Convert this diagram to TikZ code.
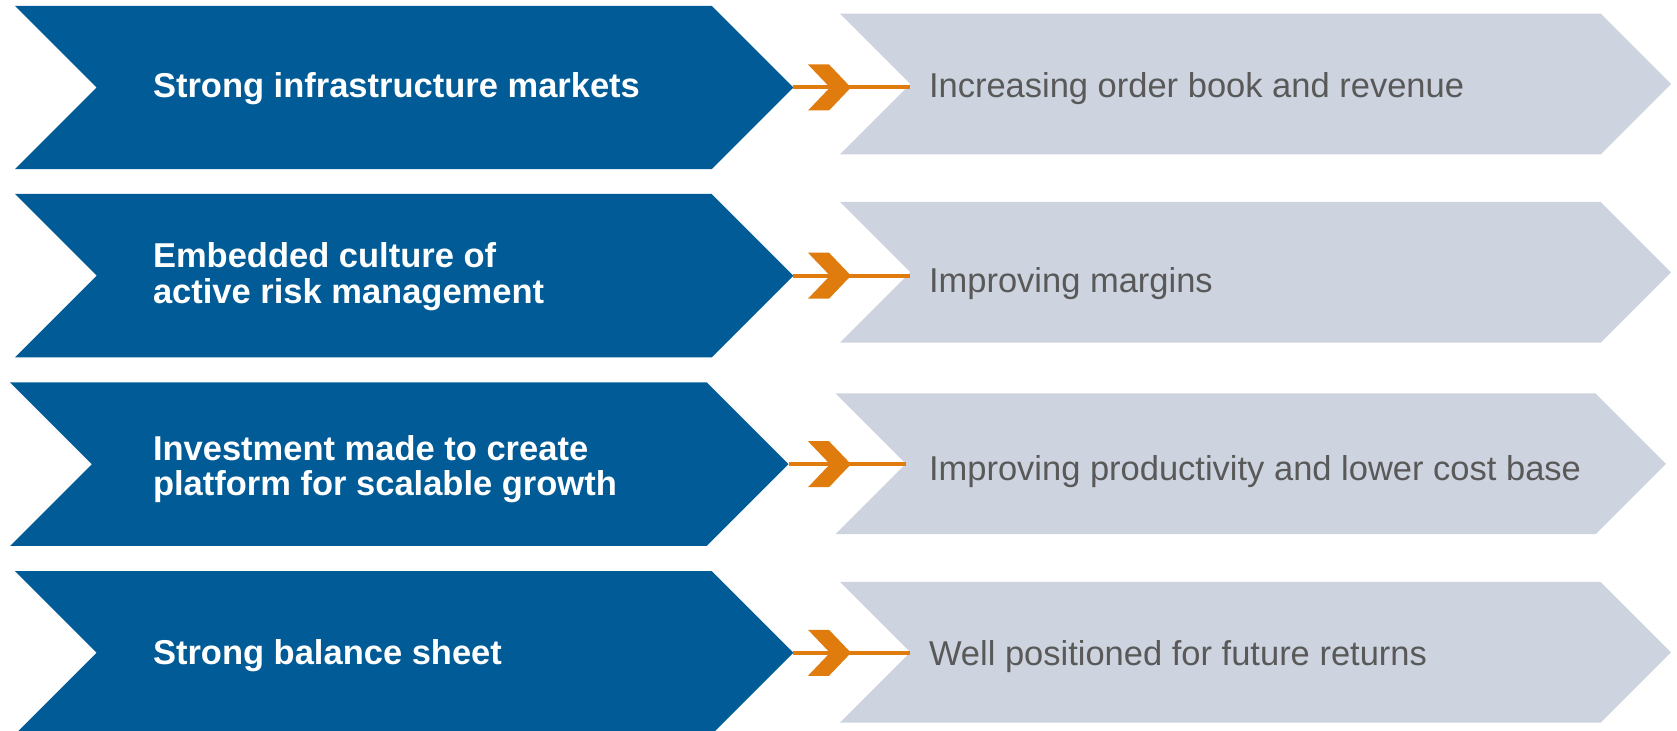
\documentclass[tikz,border=0pt]{standalone}
\usepackage{fontspec}
\setmainfont{Liberation Sans}
\usetikzlibrary{positioning}
\definecolor{causeblue}{HTML}{005B96}
\definecolor{effectgray}{HTML}{CDD3DF}
\definecolor{linkorange}{HTML}{E07B0E}
\definecolor{effecttext}{HTML}{595959}

\begin{document}
\begin{tikzpicture}
[x=0.5pt,y=-0.5pt,
 cause/.style={fill=causeblue},
 effect/.style={fill=effectgray},
 lead/.style={inner sep=0mm,outer sep=0mm,text=white,align=left,font=\fontsize{17.25}{17.85}\selectfont\bfseries},
 result/.style={anchor=base west,inner sep=0mm,outer sep=0mm,text=effecttext,font=\fontsize{17.25}{21}\selectfont},
 link/.style={draw=linkorange,line width=2pt},
 chevmark/.style={fill=linkorange}]

\useasboundingbox (0,0) rectangle (1677,731);

% row 1
\fill[cause]  (15,5.8) -- (711.6,5.8) -- (793.3,87.5) coordinate (B1tip) -- (711.6,169.2) -- (15,169.2) -- (96.7,87.5) -- cycle;
\fill[effect] (840,13.6) -- (1600.6,13.6) -- (1671,84) -- (1600.6,154.4) -- (840,154.4) -- (910.4,84) coordinate (G1in) -- cycle;
\node[lead,anchor=base west] (L1) at (153,97.7) {Strong infrastructure markets};
\node[result] (R1) at (929,97.3) {Increasing order book and revenue};
\path[link] (B1tip) edge (B1tip -| G1in);
\coordinate (M1) at (808,87.5);
\fill[chevmark] ([yshift=11.5pt]M1) -- ++(21,0) -- ++(22,23) -- ++(-22,23) -- ++(-21,0) -- ++(22,-23) -- cycle;

% row 2
\fill[cause]  (15,194) -- (711.6,194) -- (793.3,275.7) coordinate (B2tip) -- (711.6,357.4) -- (15,357.4) -- (96.7,275.7) -- cycle;
\fill[effect] (840,201.9) -- (1600.6,201.9) -- (1671,272.3) -- (1600.6,342.7) -- (840,342.7) -- (910.4,272.3) coordinate (G2in) -- cycle;
\node[lead,anchor=west] (L2) at (153,276.6) {Embedded culture of\\active risk management};
\node[result] (R2) at (929,292.3) {Improving margins};
\path[link] (B2tip) edge (B2tip -| G2in);
\coordinate (M2) at (808,275.7);
\fill[chevmark] ([yshift=11.5pt]M2) -- ++(21,0) -- ++(22,23) -- ++(-22,23) -- ++(-21,0) -- ++(22,-23) -- cycle;

% row 3
\fill[cause]  (10.2,382.5) -- (706.8,382.5) -- (788.5,464.2) coordinate (B3tip) -- (706.8,545.9) -- (10.2,545.9) -- (91.9,464.2) -- cycle;
\fill[effect] (835.5,393.4) -- (1595.6,393.4) -- (1666,463.8) -- (1595.6,534.2) -- (835.5,534.2) -- (905.9,463.8) coordinate (G3in) -- cycle;
\node[lead,anchor=west] (L3) at (153,469.2) {Investment made to create\\platform for scalable growth};
\node[result] (R3) at (929,480.5) {Improving productivity and lower cost base};
\path[link] (B3tip) edge (B3tip -| G3in);
\coordinate (M3) at (808,464.2);
\fill[chevmark] ([yshift=11.5pt]M3) -- ++(21,0) -- ++(22,23) -- ++(-22,23) -- ++(-21,0) -- ++(22,-23) -- cycle;

% row 4
\fill[cause]  (15,571.1) -- (711.6,571.1) -- (793.3,652.8) coordinate (B4tip) -- (711.6,734.5) -- (15,734.5) -- (96.7,652.8) -- cycle;
\fill[effect] (840,581.9) -- (1600.6,581.9) -- (1671,652.3) -- (1600.6,722.7) -- (840,722.7) -- (910.4,652.3) coordinate (G4in) -- cycle;
\node[lead,anchor=base west] (L4) at (153,665) {Strong balance sheet};
\node[result] (R4) at (929,665.3) {Well positioned for future returns};
\path[link] (B4tip) edge (B4tip -| G4in);
\coordinate (M4) at (808,652.8);
\fill[chevmark] ([yshift=11.5pt]M4) -- ++(21,0) -- ++(22,23) -- ++(-22,23) -- ++(-21,0) -- ++(22,-23) -- cycle;

\end{tikzpicture}
\end{document}
